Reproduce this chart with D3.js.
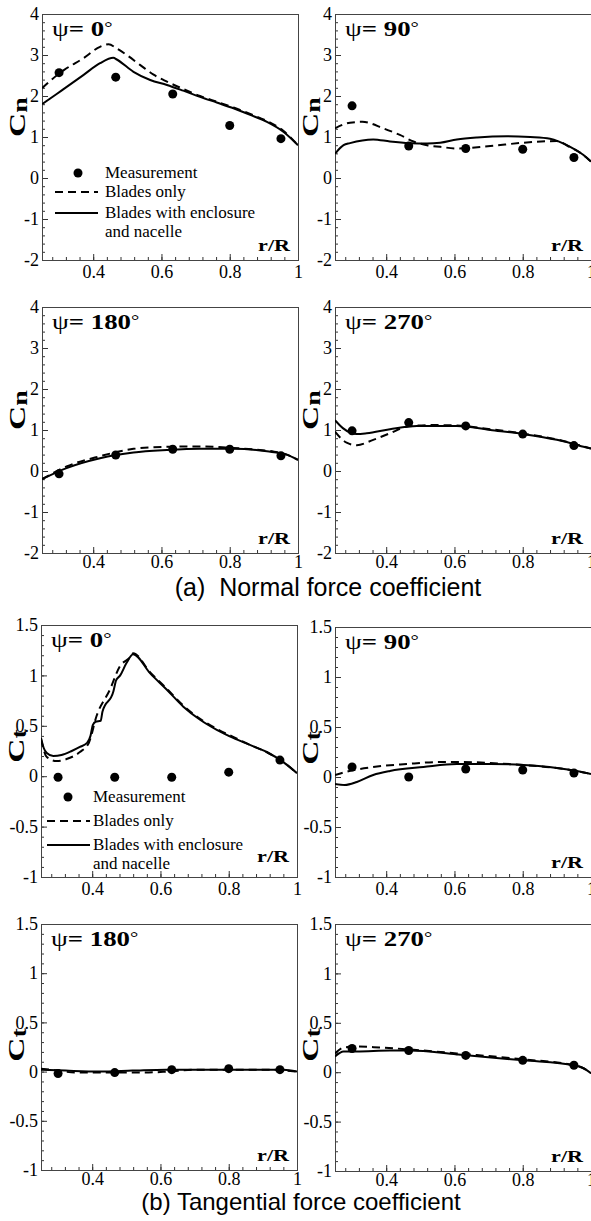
<!DOCTYPE html>
<html>
<head>
<meta charset="utf-8">
<script src="https://cdn.jsdelivr.net/npm/d3@7"></script>
<style>
  body { margin: 0; background: #fff; }
  svg { display: block; }
  .serif { font-family: "Liberation Serif", "Times New Roman", serif; }
</style>
</head>
<body>
<svg id="chart" width="591" height="1221"></svg>
<script>
// measurement stations r/R
const stations = [0.3, 0.466, 0.633, 0.8, 0.95];

// tick labels
const rTicks = [0.4, 0.6, 0.8, 1];
const cnTicks = [-2, -1, 0, 1, 2, 3, 4];
const ctTicks = [-1, -0.5, 0, 0.5, 1, 1.5];

// normal force coefficient, measurement
const cnMeas0 = [2.57, 2.46, 2.05, 1.28, 0.96];
const cnMeas90 = [1.76, 0.78, 0.72, 0.7, 0.5];
const cnMeas180 = [-0.07, 0.39, 0.53, 0.53, 0.37];
const cnMeas270 = [0.98, 1.18, 1.1, 0.9, 0.62];

// tangential force coefficient, measurement
const ctMeas0 = [-0.01, -0.01, -0.01, 0.04, 0.16];
const ctMeas90 = [0.1, 0.0, 0.08, 0.07, 0.04];
const ctMeas180 = [-0.02, -0.01, 0.02, 0.03, 0.02];
const ctMeas270 = [0.24, 0.22, 0.17, 0.12, 0.07];

// computed curves [r/R, value], "blades" = blades only, "full" = with enclosure and nacelle
const cnBlades0 = [[0.25, 2.19], [0.293, 2.5], [0.314, 2.63], [0.371, 2.92], [0.42, 3.2], [0.445, 3.26], [0.469, 3.16], [0.498, 3.0], [0.537, 2.76], [0.577, 2.52], [0.616, 2.35], [0.664, 2.17], [0.713, 2.0], [0.762, 1.86], [0.811, 1.72], [0.86, 1.56], [0.909, 1.39], [0.957, 1.15], [1.0, 0.8]];
const cnFull0 = [[0.25, 1.8], [0.293, 2.05], [0.31, 2.15], [0.371, 2.51], [0.42, 2.8], [0.459, 2.93], [0.469, 2.89], [0.518, 2.59], [0.567, 2.39], [0.616, 2.27], [0.664, 2.13], [0.713, 1.98], [0.762, 1.84], [0.811, 1.7], [0.86, 1.54], [0.909, 1.37], [0.957, 1.13], [1.0, 0.8]];

const cnBlades90 = [[0.25, 1.21], [0.294, 1.35], [0.33, 1.37], [0.392, 1.21], [0.44, 1.05], [0.48, 0.89], [0.52, 0.8], [0.558, 0.76], [0.607, 0.72], [0.705, 0.78], [0.802, 0.86], [0.9, 0.9], [0.939, 0.75], [0.978, 0.56], [1.0, 0.4]];
const cnFull90 = [[0.25, 0.59], [0.275, 0.8], [0.294, 0.85], [0.362, 0.94], [0.411, 0.89], [0.47, 0.85], [0.52, 0.84], [0.558, 0.86], [0.607, 0.94], [0.666, 0.99], [0.754, 1.02], [0.822, 1.0], [0.88, 0.96], [0.939, 0.76], [0.978, 0.56], [1.0, 0.4]];

const cnBlades180 = [[0.25, -0.2], [0.322, 0.11], [0.42, 0.36], [0.518, 0.54], [0.616, 0.59], [0.713, 0.6], [0.811, 0.56], [0.88, 0.52], [0.93, 0.47], [0.967, 0.4], [1.0, 0.27]];
const cnFull180 = [[0.25, -0.2], [0.322, 0.07], [0.42, 0.31], [0.518, 0.45], [0.616, 0.51], [0.713, 0.54], [0.811, 0.54], [0.909, 0.48], [0.967, 0.4], [1.0, 0.27]];

const cnBlades270 = [[0.25, 0.96], [0.284, 0.69], [0.314, 0.63], [0.362, 0.76], [0.411, 0.92], [0.46, 1.08], [0.53, 1.12], [0.607, 1.11], [0.705, 1.02], [0.802, 0.91], [0.9, 0.77], [0.949, 0.67], [0.978, 0.6], [1.0, 0.55]];
const cnFull270 = [[0.25, 1.24], [0.274, 1.04], [0.314, 0.9], [0.343, 0.92], [0.411, 1.02], [0.49, 1.1], [0.607, 1.1], [0.705, 1.0], [0.802, 0.9], [0.9, 0.76], [0.949, 0.66], [0.978, 0.59], [1.0, 0.55]];

const ctBlades0 = [[0.25, 0.37], [0.267, 0.19], [0.296, 0.15], [0.325, 0.17], [0.364, 0.24], [0.39, 0.33], [0.413, 0.6], [0.452, 0.86], [0.481, 1.09], [0.511, 1.18], [0.52, 1.22], [0.57, 1.03], [0.618, 0.87], [0.667, 0.7], [0.716, 0.57], [0.765, 0.47], [0.813, 0.39], [0.862, 0.31], [0.911, 0.24], [0.96, 0.14], [1.0, 0.03]];
const ctFull0 = [[0.25, 0.38], [0.258, 0.28], [0.267, 0.23], [0.286, 0.2], [0.31, 0.21], [0.34, 0.25], [0.364, 0.29], [0.385, 0.33], [0.395, 0.4], [0.402, 0.51], [0.41, 0.54], [0.425, 0.55], [0.43, 0.64], [0.462, 0.84], [0.47, 0.95], [0.482, 1.0], [0.5, 1.12], [0.52, 1.21], [0.57, 1.02], [0.618, 0.86], [0.667, 0.69], [0.716, 0.56], [0.765, 0.46], [0.813, 0.38], [0.862, 0.31], [0.911, 0.24], [0.96, 0.14], [1.0, 0.03]];

const ctBlades90 = [[0.25, 0.02], [0.28, 0.05], [0.362, 0.1], [0.46, 0.13], [0.558, 0.15], [0.626, 0.15], [0.705, 0.14], [0.802, 0.12], [0.9, 0.09], [0.958, 0.06], [1.0, 0.03]];
const ctFull90 = [[0.25, -0.07], [0.279, -0.08], [0.314, -0.05], [0.362, 0.02], [0.411, 0.06], [0.509, 0.1], [0.607, 0.13], [0.705, 0.13], [0.802, 0.12], [0.9, 0.09], [0.958, 0.06], [1.0, 0.03]];

const ctBlades180 = [[0.25, 0.03], [0.3, 0.01], [0.35, -0.01], [0.45, -0.01], [0.55, -0.01], [0.62, 0.0], [0.7, 0.02], [0.8, 0.02], [0.909, 0.02], [1.0, 0.0]];
const ctFull180 = [[0.25, 0.02], [0.322, 0.01], [0.42, 0.0], [0.518, 0.01], [0.616, 0.02], [0.713, 0.02], [0.811, 0.02], [0.909, 0.02], [0.96, 0.02], [1.0, 0.0]];

const ctBlades270 = [[0.25, 0.19], [0.275, 0.25], [0.314, 0.26], [0.38, 0.25], [0.47, 0.23], [0.607, 0.19], [0.802, 0.13], [0.95, 0.07], [0.978, 0.04], [1.0, -0.01]];
const ctFull270 = [[0.25, 0.16], [0.275, 0.21], [0.314, 0.21], [0.411, 0.22], [0.47, 0.22], [0.607, 0.18], [0.802, 0.12], [0.95, 0.07], [0.978, 0.04], [1.0, -0.01]];

const legendLabels = ["Measurement", "Blades only", "Blades with enclosure", "and nacelle"];

const svg = d3.select("#chart");
const W = 256;

const panels = [
  { x: 42, y: 14, h: 246, type: "cn", psi: "0", meas: cnMeas0, blades: cnBlades0, full: cnFull0,
    legend: { dotX: 78, lineX: 55, textX: 105, rows: [173, 192, 213, 232] } },
  { x: 335, y: 14, h: 246, type: "cn", psi: "90", meas: cnMeas90, blades: cnBlades90, full: cnFull90 },
  { x: 42, y: 307, h: 246, type: "cn", psi: "180", meas: cnMeas180, blades: cnBlades180, full: cnFull180, xPad: 2 },
  { x: 335, y: 307, h: 246, type: "cn", psi: "270", meas: cnMeas270, blades: cnBlades270, full: cnFull270, xPad: 2 },
  { x: 41, y: 625, h: 252, type: "ct", psi: "0", meas: ctMeas0, blades: ctBlades0, full: ctFull0, rRy: 862,
    legend: { dotX: 68, lineX: 47, textX: 93, rows: [797, 821, 845, 864] } },
  { x: 335, y: 627, h: 250, type: "ct", psi: "90", meas: ctMeas90, blades: ctBlades90, full: ctFull90 },
  { x: 41, y: 924, h: 246, type: "ct", psi: "180", meas: ctMeas180, blades: ctBlades180, full: ctFull180, xPad: 2 },
  { x: 335, y: 924, h: 247, type: "ct", psi: "270", meas: ctMeas270, blades: ctBlades270, full: ctFull270, xPad: 2 },
];

function drawPanel(p) {
  const g = svg.append("g");
  const isCn = p.type === "cn";
  const x = d3.scaleLinear().domain([0.25, 1]).range([p.x, p.x + W]);
  const y = d3.scaleLinear().domain(isCn ? [-2, 4] : [-1, 1.5]).range([p.y + p.h, p.y]);
  const yMajor = isCn ? cnTicks : ctTicks;
  const yMinor = isCn
    ? d3.range(0, 31).map((i) => -2 + i * 0.2)
    : d3.range(0, 26).map((i) => -1 + i * 0.1);
  const xMinor = d3.range(0, 19).map((i) => 0.28 + i * 0.04);

  const styleAxis = (a) => {
    a.select(".domain").remove();
    a.selectAll("line").attr("stroke", "#333");
    a.selectAll("text")
      .attr("class", "serif")
      .attr("font-size", 18)
      .attr("fill", "#000");
  };

  g.append("g")
    .attr("transform", `translate(${p.x},0)`)
    .call(d3.axisLeft(y).tickValues(yMinor).tickSize(-3).tickFormat(""))
    .call(styleAxis);
  g.append("g")
    .attr("transform", `translate(${p.x},0)`)
    .call(d3.axisLeft(y).tickValues(yMajor).tickSize(-6).tickPadding(3).tickFormat((d) => String(d)))
    .call(styleAxis);
  g.append("g")
    .attr("transform", `translate(0,${p.y + p.h})`)
    .call(d3.axisBottom(x).tickValues(xMinor).tickSize(-3).tickFormat(""))
    .call(styleAxis);
  g.append("g")
    .attr("transform", `translate(0,${p.y + p.h})`)
    .call(d3.axisBottom(x).tickValues(rTicks).tickSize(-6).tickPadding(p.xPad || 5).tickFormat((d) => String(d)))
    .call(styleAxis);

  g.append("rect")
    .attr("x", p.x + 0.5)
    .attr("y", p.y + 0.5)
    .attr("width", W)
    .attr("height", p.h)
    .attr("fill", "none")
    .attr("stroke", "#444")
    .attr("stroke-width", 1);

  const clipId = `clip-${p.type}-${p.psi}`;
  svg.append("clipPath")
    .attr("id", clipId)
    .append("rect")
    .attr("x", p.x)
    .attr("y", p.y)
    .attr("width", W)
    .attr("height", p.h);

  const line = d3.line()
    .x((d) => x(d[0]))
    .y((d) => y(d[1]))
    .curve(d3.curveMonotoneX);

  const plot = g.append("g").attr("clip-path", `url(#${clipId})`);
  plot.append("path")
    .attr("d", line(p.blades))
    .attr("fill", "none")
    .attr("stroke", "#000")
    .attr("stroke-width", 2)
    .attr("stroke-dasharray", "8,5");
  plot.append("path")
    .attr("d", line(p.full))
    .attr("fill", "none")
    .attr("stroke", "#000")
    .attr("stroke-width", 2);
  plot.selectAll("circle")
    .data(p.meas)
    .join("circle")
    .attr("cx", (d, i) => x(stations[i]))
    .attr("cy", (d) => y(d))
    .attr("r", 4.5)
    .attr("fill", "#000");

  // psi label, glyphs a bit wider than plain Times
  const psi = g.append("text")
    .attr("class", "serif")
    .attr("transform", `translate(${p.x + 10},${p.y + 22}) scale(1.22,1)`)
    .attr("font-size", 22)
    .attr("fill", "#000");
  psi.append("tspan").text("ψ");
  psi.append("tspan").attr("font-weight", "bold").text("= " + p.psi);
  psi.append("tspan").attr("font-size", 17).attr("dy", -3).text("°");

  // r/R label
  g.append("text")
    .attr("class", "serif")
    .attr("transform", `translate(${p.x + W - 8},${p.rRy || p.y + p.h - 9}) scale(1.3,1)`)
    .attr("text-anchor", "end")
    .attr("font-size", 17)
    .attr("font-weight", "bold")
    .text("r/R");

  // y axis title
  const ty = p.y + (isCn ? 103 : 121);
  const title = g.append("text")
    .attr("class", "serif")
    .attr("transform", `translate(${p.x - 17},${ty}) rotate(-90) scale(1.4,1)`)
    .attr("text-anchor", "middle")
    .attr("font-weight", "bold")
    .attr("font-size", 24);
  title.append("tspan").text("C");
  title.append("tspan").attr("font-size", 20).attr("dy", 2).text(isCn ? "n" : "t");

  if (p.legend) {
    const L = p.legend;
    const r = L.rows;
    g.append("circle").attr("cx", L.dotX).attr("cy", r[0]).attr("r", 4.5).attr("fill", "#000");
    g.append("line")
      .attr("x1", L.lineX).attr("x2", L.lineX + 43)
      .attr("y1", r[1]).attr("y2", r[1])
      .attr("stroke", "#000").attr("stroke-width", 2).attr("stroke-dasharray", "8,5");
    g.append("line")
      .attr("x1", L.lineX).attr("x2", L.lineX + 43)
      .attr("y1", r[2]).attr("y2", r[2])
      .attr("stroke", "#000").attr("stroke-width", 2);
    g.selectAll("text.leg")
      .data(legendLabels)
      .join("text")
      .attr("class", "serif leg")
      .attr("x", L.textX)
      .attr("y", (d, i) => r[i] + 5)
      .attr("font-size", 17)
      .attr("fill", "#000")
      .text((d) => d);
  }
}

panels.forEach(drawPanel);

svg.append("text")
  .attr("x", 328)
  .attr("y", 596)
  .attr("text-anchor", "middle")
  .attr("font-family", "'Liberation Sans', Arial, sans-serif")
  .attr("font-size", 25)
  .style("white-space", "pre")
  .text("(a)  Normal force coefficient");

svg.append("text")
  .attr("x", 301)
  .attr("y", 1210)
  .attr("text-anchor", "middle")
  .attr("font-family", "'Liberation Sans', Arial, sans-serif")
  .attr("font-size", 24)
  .text("(b) Tangential force coefficient");
</script>
</body>
</html>
